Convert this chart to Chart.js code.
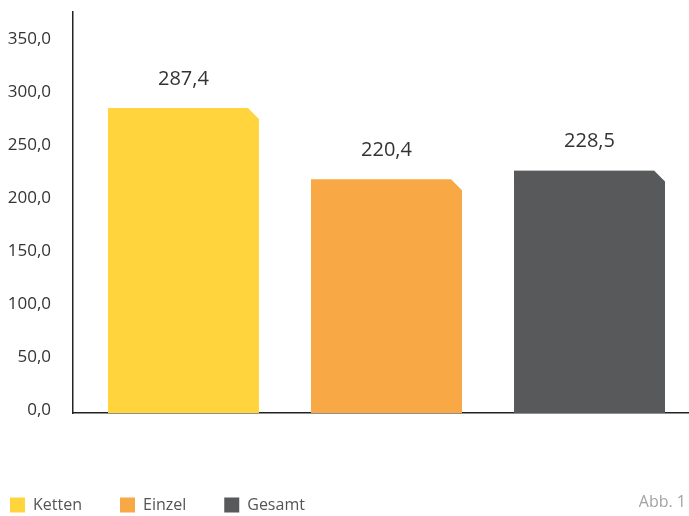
<!DOCTYPE html>
<html lang="de">
<head>
<meta charset="UTF-8">
<title>Abb. 1</title>
<script src="https://cdn.jsdelivr.net/npm/chart.js"></script>
<style>
    html, body { margin: 0; padding: 0; background: #fff; }
    .wrap { position: relative; width: 689px; height: 516px; }
    .abb { position: absolute; right: 3px; bottom: 4px; font: 16px "Open Sans", sans-serif; color: #a3a3a3; }
</style>
</head>
<body>
<div class="wrap">
    <canvas id="chart" width="689" height="516"></canvas>
    <div class="abb">Abb. 1</div>
</div>
<script>
    var categories = ['Ketten', 'Einzel', 'Gesamt'];
    var values = [287.4, 220.4, 228.5];
    var colors = ['#FFD43D', '#F8A844', '#58595B'];
    var yTicks = [0, 50, 100, 150, 200, 250, 300, 350];

    function fmt(v) {
        return v.toFixed(1).replace('.', ',');
    }

    // one dataset per bar so each gets its own legend entry
    var datasets = categories.map(function (name, i) {
        return {
            label: name,
            data: [{ x: i, y: values[i] }],
            backgroundColor: colors[i],
            borderWidth: 0,
            barThickness: 151,
            grouped: false
        };
    });

    // cut off the top right corner of every bar
    var chamfer = {
        id: 'chamfer',
        beforeDatasetDraw: function (chart, args) {
            var ctx = chart.ctx;
            var el = args.meta.data[0];
            var p = el.getProps(['x', 'y', 'base', 'width'], true);
            var l = p.x - p.width / 2, r = p.x + p.width / 2, c = 11;
            ctx.save();
            ctx.beginPath();
            ctx.moveTo(l, p.base);
            ctx.lineTo(l, p.y);
            ctx.lineTo(r - c, p.y);
            ctx.lineTo(r, p.y + c);
            ctx.lineTo(r, p.base);
            ctx.closePath();
            ctx.clip();
        },
        afterDatasetDraw: function (chart) {
            chart.ctx.restore();
        }
    };

    var valueLabels = {
        id: 'valueLabels',
        afterDatasetsDraw: function (chart) {
            var ctx = chart.ctx;
            ctx.save();
            ctx.font = '20px "Open Sans"';
            ctx.fillStyle = '#333';
            ctx.textAlign = 'center';
            ctx.textBaseline = 'middle';
            chart.data.datasets.forEach(function (ds, i) {
                var el = chart.getDatasetMeta(i).data[0];
                ctx.fillText(fmt(ds.data[0].y), el.x, el.y - 29);
            });
            ctx.restore();
        }
    };

    new Chart(document.getElementById('chart'), {
        type: 'bar',
        data: { datasets: datasets },
        plugins: [chamfer, valueLabels],
        options: {
            responsive: false,
            animation: false,
            layout: { padding: { top: 12, left: -28, right: 1, bottom: -7 } },
            plugins: {
                tooltip: { enabled: false },
                legend: {
                    position: 'bottom',
                    align: 'start',
                    labels: {
                        boxWidth: 15,
                        boxHeight: 15,
                        padding: 38,
                        color: '#555',
                        font: { family: 'Open Sans', size: 16 }
                    }
                }
            },
            scales: {
                x: {
                    type: 'linear',
                    offset: false,
                    min: -0.544,
                    max: 2.485,
                    grid: { display: false },
                    border: { display: true, color: '#222', width: 1.5 },
                    ticks: { display: false },
                    afterFit: function (s) { s.height = 46; }
                },
                y: {
                    min: 0,
                    max: 378,
                    grid: { display: false, drawTicks: false },
                    border: { display: true, color: '#222', width: 1.5 },
                    afterBuildTicks: function (s) {
                        s.ticks = yTicks.map(function (v) { return { value: v }; });
                    },
                    afterFit: function (s) {
                        s.width = 101;
                        s.paddingTop = 0;
                        s.paddingBottom = 0;
                    },
                    ticks: {
                        padding: 22,
                        labelOffset: -3,
                        color: '#333',
                        font: { family: 'Open Sans', size: 17 },
                        callback: function (v) { return fmt(v); }
                    }
                }
            }
        }
    });
</script>
</body>
</html>
